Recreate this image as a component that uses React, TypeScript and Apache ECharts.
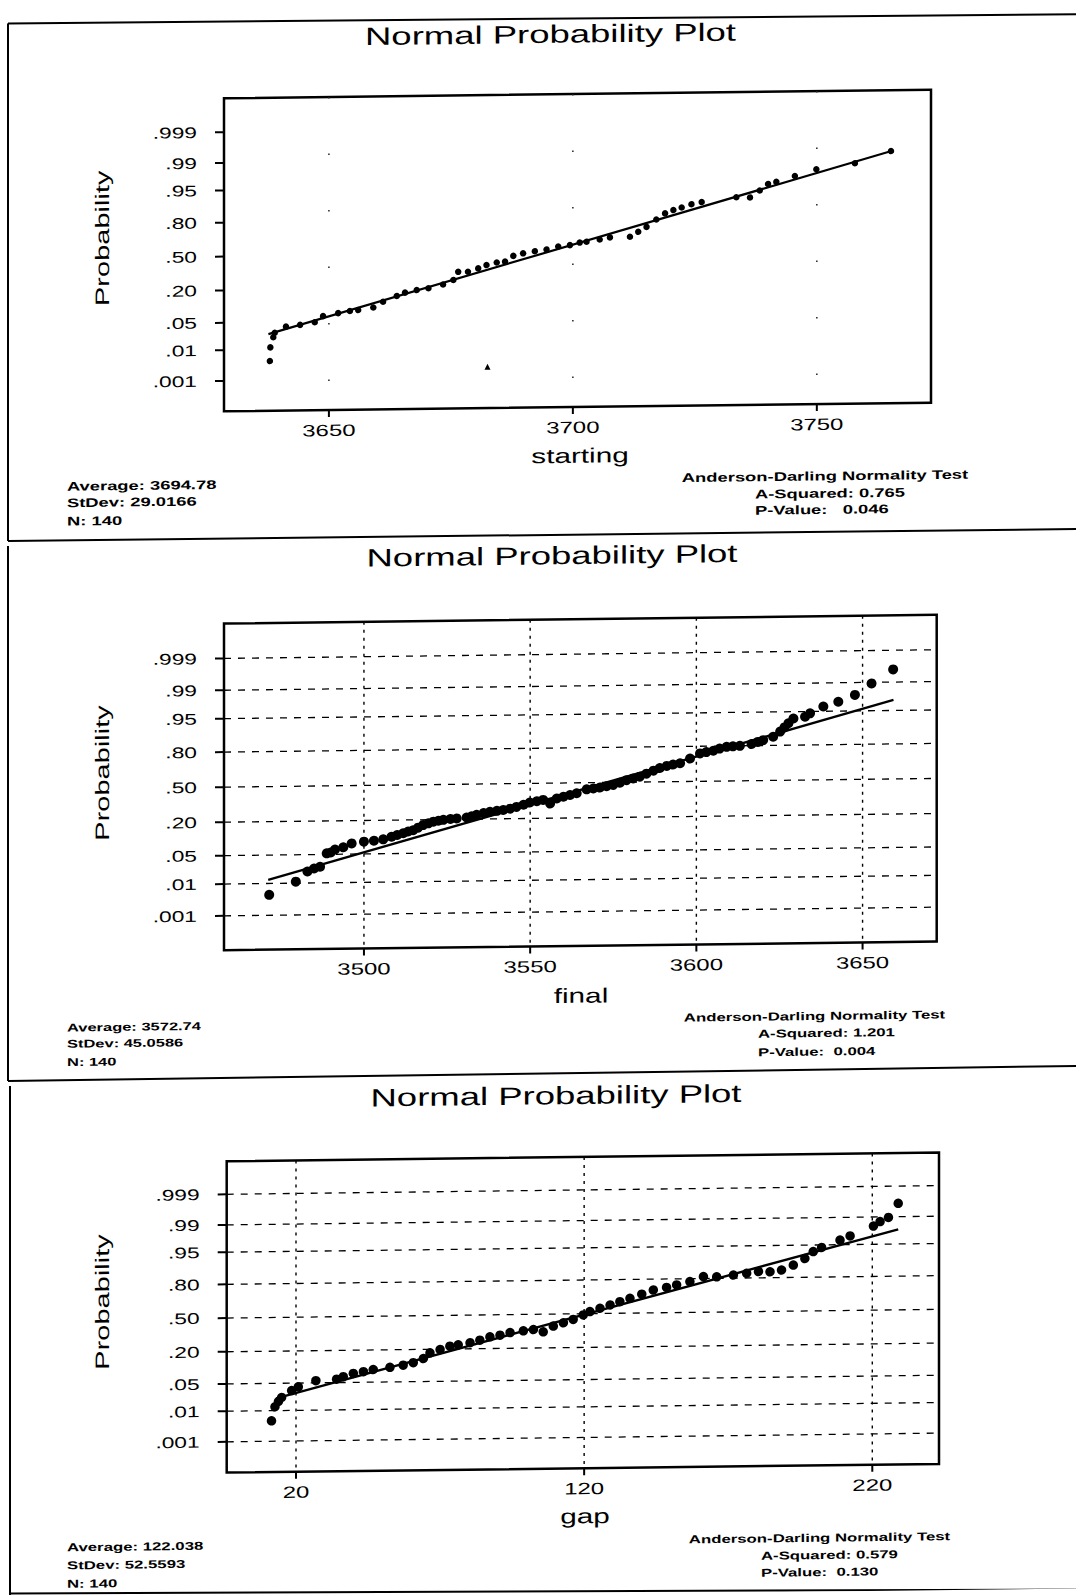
import React, { useEffect, useRef } from "react";
import * as echarts from "echarts";

// ---------- data ----------
const TITLE = "Normal Probability Plot";
const Y_NAME = "Probability";
const probTicks = [0.999, 0.99, 0.95, 0.8, 0.5, 0.2, 0.05, 0.01, 0.001];
const probLabels = [".999", ".99", ".95", ".80", ".50", ".20", ".05", ".01", ".001"];

const xNames = ["starting", "final", "gap"];
const startingTicks = [3650, 3700, 3750];
const finalTicks = [3500, 3550, 3600, 3650];
const gapTicks = [20, 120, 220];

// [value, normal score] of visible dots
const startingPoints = [
  [3637.9, -2.61], [3638.0, -2.27], [3638.6, -2.02], [3638.9, -1.91], [3641.2, -1.76], [3644.1, -1.72],
  [3647.1, -1.66], [3648.8, -1.51], [3651.9, -1.44], [3654.3, -1.39], [3656.0, -1.37], [3659.1, -1.31],
  [3661.1, -1.17], [3663.9, -1.03], [3665.6, -0.95], [3668.0, -0.89], [3670.4, -0.85], [3673.4, -0.76],
  [3675.5, -0.65], [3676.5, -0.45], [3678.5, -0.45], [3680.6, -0.37], [3682.3, -0.29], [3684.4, -0.23],
  [3686.1, -0.21], [3687.8, -0.07], [3689.8, -0.01], [3692.2, 0.04], [3694.6, 0.08], [3697.0, 0.15],
  [3699.4, 0.18], [3701.4, 0.24], [3702.8, 0.26], [3705.5, 0.31], [3707.6, 0.36], [3711.7, 0.37],
  [3713.4, 0.49], [3715.1, 0.61], [3717.1, 0.79], [3718.9, 0.94], [3720.6, 1.02], [3722.3, 1.08],
  [3724.3, 1.16], [3726.4, 1.21], [3733.5, 1.32], [3736.3, 1.31], [3738.3, 1.48], [3740.0, 1.64],
  [3741.7, 1.69], [3745.5, 1.83], [3749.9, 1.99], [3757.8, 2.13], [3765.2, 2.42],
];
const startingStray = [[3682.5, -2.82]];
const finalPoints = [
  [3471.5, -2.6], [3479.5, -2.29], [3483.0, -2.05], [3485.0, -1.98], [3486.8, -1.94], [3488.8, -1.62],
  [3490.0, -1.6], [3491.3, -1.53], [3493.8, -1.48], [3496.3, -1.39], [3500.0, -1.35], [3503.0, -1.33],
  [3505.8, -1.3], [3508.3, -1.24], [3510.0, -1.2], [3511.8, -1.16], [3513.3, -1.12], [3514.8, -1.09],
  [3516.3, -1.03], [3517.8, -0.97], [3519.4, -0.93], [3520.9, -0.89], [3522.4, -0.87], [3523.9, -0.85],
  [3526.0, -0.83], [3527.9, -0.82], [3530.9, -0.8], [3532.4, -0.77], [3533.9, -0.74], [3536.0, -0.7],
  [3537.9, -0.67], [3540.0, -0.65], [3541.9, -0.63], [3544.0, -0.6], [3545.9, -0.56], [3548.0, -0.51],
  [3549.9, -0.46], [3552.0, -0.43], [3553.9, -0.4], [3556.0, -0.49], [3558.0, -0.37], [3560.0, -0.33],
  [3562.0, -0.29], [3564.0, -0.25], [3567.0, -0.16], [3569.0, -0.14], [3571.0, -0.12], [3573.0, -0.09],
  [3575.0, -0.06], [3577.0, -0.01], [3579.0, 0.05], [3581.0, 0.09], [3583.0, 0.13], [3585.0, 0.2],
  [3587.1, 0.27], [3589.0, 0.33], [3591.1, 0.38], [3593.0, 0.41], [3595.1, 0.44], [3598.1, 0.55],
  [3601.1, 0.67], [3603.0, 0.7], [3605.1, 0.73], [3607.0, 0.78], [3609.1, 0.82], [3611.0, 0.83],
  [3613.1, 0.84], [3616.6, 0.88], [3618.5, 0.93], [3620.1, 0.97], [3623.1, 1.05], [3625.2, 1.17],
  [3626.5, 1.27], [3627.7, 1.37], [3629.2, 1.48], [3632.7, 1.52], [3634.2, 1.6], [3638.2, 1.76],
  [3642.7, 1.87], [3647.7, 2.03], [3652.7, 2.3], [3659.2, 2.63],
];
const gapPoints = [
  [11.5, -2.58], [12.7, -2.23], [13.9, -2.1], [15.0, -2.0], [18.5, -1.83], [20.8, -1.74], [26.9, -1.59],
  [34.1, -1.56], [36.4, -1.5], [39.9, -1.42], [43.4, -1.38], [46.8, -1.33], [52.6, -1.28], [57.2, -1.23],
  [60.7, -1.17], [64.2, -1.07], [66.5, -0.93], [70.0, -0.85], [73.4, -0.77], [76.3, -0.74], [80.4, -0.69],
  [83.8, -0.63], [87.3, -0.55], [90.8, -0.51], [94.3, -0.45], [98.9, -0.41], [102.4, -0.38], [105.8, -0.44],
  [109.3, -0.3], [112.8, -0.22], [116.2, -0.14], [119.7, -0.03], [122.0, 0.05], [125.5, 0.13], [129.0, 0.21],
  [132.4, 0.29], [135.9, 0.37], [140.0, 0.47], [144.0, 0.57], [148.6, 0.63], [152.1, 0.69], [156.7, 0.77],
  [161.4, 0.89], [166.0, 0.88], [171.8, 0.92], [176.4, 0.96], [180.5, 1.0], [184.5, 0.99], [188.5, 1.03],
  [192.6, 1.15], [196.6, 1.31], [199.5, 1.48], [202.4, 1.58], [208.8, 1.76], [212.3, 1.86], [220.4, 2.1],
  [222.7, 2.21], [225.6, 2.31], [229.0, 2.66],
];

const startingFit = [[3637.6, -1.94], [3765.3, 2.42]];
const finalFit = [[3471.2, -2.24], [3659.3, 1.9]];
const gapFit = [[13.1, -2.02], [229.0, 2.01]];

const startingStats = ["Average: 3694.78", "StDev: 29.0166", "N: 140"];
const finalStats = ["Average: 3572.74", "StDev: 45.0586", "N: 140"];
const gapStats = ["Average: 122.038", "StDev: 52.5593", "N: 140"];
const startingTest = ["Anderson-Darling Normality Test", "A-Squared: 0.765", "P-Value:   0.046"];
const finalTest = ["Anderson-Darling Normality Test", "A-Squared: 1.201", "P-Value:  0.004"];
const gapTest = ["Anderson-Darling Normality Test", "A-Squared: 0.579", "P-Value:  0.130"];

// ---------- layout / style ----------
const FONT = '"Liberation Sans", Arial, Helvetica, sans-serif';
const SX = 1.46; // the printed font is wide

const panels = [
  {
    points: startingPoints, stray: startingStray, fit: startingFit, ticks: startingTicks,
    stats: startingStats, test: startingTest, name: xNames[0],
    grid: { left: 224, top: 94.5, width: 707, height: 313 },
    x: [3628.5, 3773.4], z: [-3.846, 3.933], dashed: false, dot: 6.5, lineW: 2.2,
    titleXY: [550.5, 34.6], yNameXY: [102, 233], xNameXY: [580, 456],
    statsX: 67, statsY: [480.6, 497, 515.3], statsFont: 12.5,
    testCX: 825, testX: 755, testY: [479.5, 496.8, 513], testFont: 12.5,
  },
  {
    points: finalPoints, stray: [], fit: finalFit, ticks: finalTicks,
    stats: finalStats, test: finalTest, name: xNames[1],
    grid: { left: 224, top: 619.7, width: 712.7, height: 326.7 },
    x: [3457.9, 3672.3], z: [-3.916, 3.928], dashed: true, dot: 10, lineW: 2.4,
    titleXY: [552, 556], yNameXY: [102, 767.7], xNameXY: [581, 996],
    statsX: 67, statsY: [1021.8, 1038, 1056.3], statsFont: 11.2,
    testCX: 814.5, testX: 758, testY: [1019.4, 1036.4, 1055], testFont: 11.4,
  },
  {
    points: gapPoints, stray: [], fit: gapFit, ticks: gapTicks,
    stats: gapStats, test: gapTest, name: xNames[2],
    grid: { left: 226.7, top: 1157.5, width: 712.3, height: 311.3 },
    x: [-4.05, 243.15], z: [-3.859, 3.914], dashed: true, dot: 9.5, lineW: 2.4,
    titleXY: [556, 1096], yNameXY: [102, 1296.7], xNameXY: [585, 1516.6],
    statsX: 67, statsY: [1541.6, 1559.6, 1578.1], statsFont: 11.4,
    testCX: 819.5, testX: 761, testY: [1541.2, 1558.5, 1575.5], testFont: 11.4,
  },
];

const borders = [
  [8, 16.9, 1076, 20.8],
  [8, 16.9, 8, 534.5],
  [8, 534.5, 1076, 535.6],
  [8, 539.5, 8, 1074.5],
  [8, 1074.5, 1076, 1072.6],
  [10, 1079.5, 10, 1588.5],
  [10, 1587, 1076, 1596],
];

// inverse of the standard normal CDF (probability axis scale)
function probit(p: number): number {
  const a = [-39.69683028665376, 220.9460984245205, -275.9285104469687, 138.357751867269, -30.66479806614716, 2.506628277459239];
  const b = [-54.47609879822406, 161.5858368580409, -155.6989798598866, 66.80131188771972, -13.28068155922803];
  const c = [-0.007784894002430293, -0.3223964580411365, -2.400758277161838, -2.549732539343734, 4.374664141464968, 2.938163982698783];
  const d = [0.007784695709041462, 0.3224671290700398, 2.445134137142996, 3.754408661907416];
  const pl = 0.02425;
  if (p < pl) {
    const q = Math.sqrt(-2 * Math.log(p));
    return (((((c[0] * q + c[1]) * q + c[2]) * q + c[3]) * q + c[4]) * q + c[5]) / ((((d[0] * q + d[1]) * q + d[2]) * q + d[3]) * q + 1);
  }
  if (p <= 1 - pl) {
    const q = p - 0.5;
    const r = q * q;
    return ((((((a[0] * r + a[1]) * r + a[2]) * r + a[3]) * r + a[4]) * r + a[5]) * q) / (((((b[0] * r + b[1]) * r + b[2]) * r + b[3]) * r + b[4]) * r + 1);
  }
  const q = Math.sqrt(-2 * Math.log(1 - p));
  return -(((((c[0] * q + c[1]) * q + c[2]) * q + c[3]) * q + c[4]) * q + c[5]) / ((((d[0] * q + d[1]) * q + d[2]) * q + d[3]) * q + 1);
}

function txt(text: string, x: number, y: number, size: number, opts: any = {}) {
  const align = opts.align || "center";
  return {
    type: "text",
    x,
    y,
    scaleX: opts.scaleX || SX,
    rotation: opts.rotation || 0,
    silent: true,
    style: {
      text,
      fill: "#000",
      fontSize: size,
      fontFamily: FONT,
      fontWeight: opts.bold ? "bold" : "normal",
      align,
      textAlign: align,
      verticalAlign: "middle",
      textVerticalAlign: "middle",
    },
  };
}

function buildOption() {
  const grids: any[] = [];
  const xAxes: any[] = [];
  const yAxes: any[] = [];
  const series: any[] = [];
  const graphic: any[] = [];

  panels.forEach((pn, i) => {
    grids.push({ ...pn.grid, show: true, borderColor: "#000", borderWidth: 2.5, backgroundColor: "transparent" });
    xAxes.push({ type: "value", gridIndex: i, min: pn.x[0], max: pn.x[1], show: false });
    yAxes.push({ type: "value", gridIndex: i, min: pn.z[0], max: pn.z[1], show: false });

    // y ticks, labels, horizontal grid
    series.push({
      type: "custom",
      xAxisIndex: i,
      yAxisIndex: i,
      silent: true,
      clip: false,
      z: 1,
      data: probTicks.map((p, k) => [pn.x[0], probit(p), k]),
      encode: { x: 0, y: 1 },
      renderItem: (params: any, api: any) => {
        const zv = api.value(1);
        const k = api.value(2);
        const l = api.coord([pn.x[0], zv]);
        const r = api.coord([pn.x[1], zv]);
        const children: any[] = [
          { type: "line", shape: { x1: l[0] - 9, y1: l[1], x2: l[0], y2: l[1] }, style: { stroke: "#000", lineWidth: 2 } },
          txt(probLabels[k], l[0] - 27, l[1], 15.5, { align: "right", scaleX: 1.47 }),
        ];
        if (pn.dashed) {
          children.push({ type: "line", shape: { x1: l[0], y1: l[1], x2: r[0], y2: r[1] }, style: { stroke: "#000", lineWidth: 1.3, lineDash: [7, 7] } });
        }
        return { type: "group", children };
      },
    });

    // x ticks, labels, vertical grid
    series.push({
      type: "custom",
      xAxisIndex: i,
      yAxisIndex: i,
      silent: true,
      clip: false,
      z: 1,
      data: pn.ticks.map((v, k) => [v, pn.z[0], k]),
      encode: { x: 0, y: 1 },
      renderItem: (params: any, api: any) => {
        const v = api.value(0);
        const b = api.coord([v, pn.z[0]]);
        const t = api.coord([v, pn.z[1]]);
        const children: any[] = [
          { type: "line", shape: { x1: b[0], y1: b[1], x2: b[0], y2: b[1] + 7 }, style: { stroke: "#000", lineWidth: 2 } },
          txt(String(pn.ticks[api.value(2)]), b[0], b[1] + 20, 16.5, { scaleX: 1.45 }),
        ];
        children.push({
          type: "line",
          shape: { x1: t[0], y1: t[1], x2: b[0], y2: b[1] },
          style: pn.dashed
            ? { stroke: "#000", lineWidth: 1.4, lineDash: [3, 5] }
            : { stroke: "#222", lineWidth: 1.5, lineDash: [1.5, 55] },
        });
        return { type: "group", children };
      },
    });

    series.push({
      type: "line",
      xAxisIndex: i,
      yAxisIndex: i,
      data: pn.fit,
      showSymbol: false,
      symbol: "none",
      silent: true,
      z: 3,
      lineStyle: { color: "#000", width: pn.lineW, opacity: 1 },
    });
    series.push({
      type: "scatter",
      xAxisIndex: i,
      yAxisIndex: i,
      data: pn.points,
      symbol: "circle",
      symbolSize: pn.dot,
      silent: true,
      z: 4,
      itemStyle: { color: "#000", opacity: 1 },
    });
    if (pn.stray.length) {
      series.push({
        type: "scatter",
        xAxisIndex: i,
        yAxisIndex: i,
        data: pn.stray,
        symbol: "triangle",
        symbolSize: 6,
        silent: true,
        z: 4,
        itemStyle: { color: "#000", opacity: 1 },
      });
    }

    graphic.push(txt(TITLE, pn.titleXY[0], pn.titleXY[1], 25));
    graphic.push(txt(Y_NAME, pn.yNameXY[0], pn.yNameXY[1], 19.5, { rotation: Math.PI / 2, scaleX: 1.49 }));
    graphic.push(txt(pn.name, pn.xNameXY[0], pn.xNameXY[1], 20.5, { scaleX: 1.45 }));
    pn.stats.forEach((s, k) => {
      graphic.push(txt(s, pn.statsX, pn.statsY[k], pn.statsFont, { align: "left", bold: true, scaleX: 1.47 }));
    });
    pn.test.forEach((s, k) => {
      if (k === 0) graphic.push(txt(s, pn.testCX, pn.testY[k], pn.testFont, { bold: true, scaleX: 1.47 }));
      else graphic.push(txt(s, pn.testX, pn.testY[k], pn.testFont, { align: "left", bold: true, scaleX: 1.47 }));
    });
  });

  borders.forEach((b) => {
    graphic.push({
      type: "line",
      silent: true,
      shape: { x1: b[0], y1: b[1], x2: b[2], y2: b[3] },
      style: { stroke: "#000", lineWidth: 2 },
    });
  });

  return {
    animation: false,
    backgroundColor: "#fff",
    grid: grids,
    xAxis: xAxes,
    yAxis: yAxes,
    series,
    graphic: { elements: graphic },
  };
}

export default function App() {
  const ref = useRef<HTMLDivElement>(null);
  useEffect(() => {
    if (!ref.current) return;
    const chart = echarts.init(ref.current, null, { renderer: "svg", width: 1076, height: 1595 });
    chart.setOption(buildOption() as any);
    return () => chart.dispose();
  }, []);
  return (
    <div
      ref={ref}
      style={{
        position: "absolute",
        left: 0,
        top: 0,
        width: 1076,
        height: 1595,
        background: "#fff",
        transform: "skewY(-0.7deg)",
        transformOrigin: "538px 0px",
      }}
    />
  );
}
